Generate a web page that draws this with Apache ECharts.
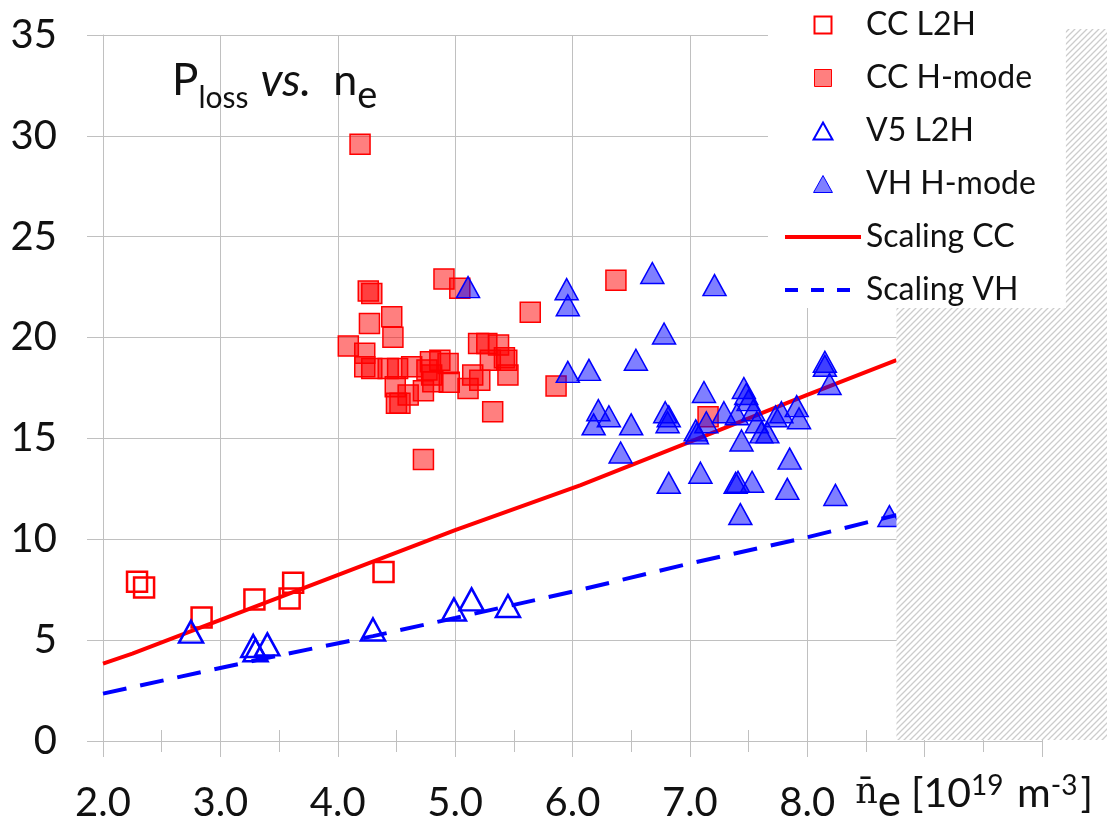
<!DOCTYPE html>
<html>
<head>
<meta charset="utf-8">
<script src="https://cdn.jsdelivr.net/npm/echarts@6/dist/echarts.min.js"></script>
<style>
html,body{margin:0;padding:0;background:#fff;}
#c{width:1107px;height:829px;}
</style>
</head>
<body>
<div id="c"></div>
<script>
// ---------- data ----------
const seriesNames = ['CC L2H', 'CC H-mode', 'V5 L2H', 'VH H-mode', 'Scaling CC', 'Scaling VH'];

const ccL2H = [[2.29,7.89],[2.35,7.61],[2.84,6.12],[3.29,7.01],[3.59,7.06],[3.62,7.84],[4.39,8.38]];

const ccHmode = [
  [4.19,29.58],[4.905,22.90],[5.04,22.44],[4.26,22.31],[4.29,22.19],[5.64,21.25],
  [4.46,21.03],[4.27,20.70],[4.47,20.01],[4.09,19.58],[4.23,19.22],[4.23,18.55],
  [4.29,18.47],[4.43,18.47],[4.51,18.47],[4.63,18.55],[4.79,18.80],[4.87,18.88],
  [4.94,18.72],[4.76,18.39],[4.80,18.14],[4.81,17.81],[4.95,17.78],[4.49,17.56],
  [4.60,17.15],[4.73,17.36],[4.50,16.74],[4.53,16.74],[5.15,18.14],[5.21,17.89],
  [5.11,17.48],[5.20,19.71],[5.27,19.71],[5.37,19.63],[5.30,18.88],[5.44,18.88],
  [5.42,19.00],[5.45,18.14],[5.32,16.32],[4.73,13.96],[5.86,17.60],[6.37,22.84],
  [7.155,16.07]
];

const v5L2H = [[2.75,5.42],[3.28,4.71],[3.30,4.50],[3.40,4.79],[4.30,5.53],[4.99,6.52],[5.14,7.02],[5.45,6.69]];

const vhHmode = [
  [5.11,22.50],[5.95,22.40],[5.96,21.60],[5.96,18.30],[6.14,18.40],
  [6.22,16.40],[6.31,16.10],[6.18,15.70],[6.50,15.70],[6.41,14.30],
  [6.54,18.90],[6.68,23.20],[6.78,20.20],[6.79,16.30],[6.82,16.10],
  [6.81,15.80],[6.82,12.80],[7.05,15.40],[7.06,15.25],[7.09,13.30],
  [7.12,17.30],[7.14,15.80],[7.21,22.60],[7.29,16.30],[7.40,16.20],
  [7.39,12.80],[7.41,12.85],[7.43,11.25],[7.44,14.90],[7.46,17.50],
  [7.48,17.20],[7.50,16.90],[7.53,12.85],[7.54,16.40],[7.57,15.80],
  [7.61,15.30],[7.66,15.30],[7.73,16.10],[7.78,16.30],[7.83,12.50],
  [7.85,14.00],[7.91,16.60],[7.93,16.00],[8.15,18.80],[8.15,18.60],
  [8.19,17.70],[8.24,12.20],[8.70,11.15]
];

const scalingCC = [[2.0,3.84],[2.25,4.33],[5.0,10.45],[6.07,12.68],[7.0,14.83],[8.0,17.16],[8.76,18.88]];
const scalingVH = [[2.0,2.35],[3.3,4.0],[4.3,5.2],[5.0,6.1],[6.0,7.4],[7.0,8.8],[8.0,10.1],[8.76,11.2]];

const xTickLabels = ['2.0','3.0','4.0','5.0','6.0','7.0','8.0'];
const yTickLabels = ['0','5','10','15','20','25','30','35'];

const hatchFromX = 8.76;   // start of the hatched (excluded) region
const hatchTopY = 35.3;

// ---------- styles ----------
const FONT = 'Lato';
const TXT = '#111';
const GRID = '#c0c0c0';
const ICON_SQUARE = 'path://M0,0L10,0L10,10L0,10Z';
const ICON_TRIANGLE = 'path://M10,0L20,18L0,18Z';
const NOFILL = {color: 'rgba(0,0,0,0)', borderColor: 'rgba(0,0,0,0)', borderWidth: 0};

const chart = echarts.init(document.getElementById('c'), null, {renderer: 'canvas'});

const option = {
  animation: false,
  backgroundColor: '#fff',
  title: {
    text: '{P|P}{s|loss}{i|vs.}{n|n}{e|e}',
    left: 172, top: 56, padding: 0, z: 10,
    textStyle: {
      fontWeight: 'normal',
      rich: {
        P: {fontFamily: FONT, fontWeight: 'normal', fontSize: 44, lineHeight: 50, color: TXT},
        s: {fontFamily: FONT, fontWeight: 'normal', fontSize: 30, lineHeight: 30, padding: [35, 0, 0, 0], color: TXT},
        i: {fontFamily: FONT, fontWeight: 'normal', fontStyle: 'italic', fontSize: 46, lineHeight: 50, padding: [0, 0, 0, 12], color: TXT},
        n: {fontFamily: FONT, fontWeight: 'normal', fontSize: 43, lineHeight: 50, padding: [0, 0, 0, 22], color: TXT},
        e: {fontFamily: FONT, fontWeight: 'normal', fontSize: 38, lineHeight: 40, padding: [30, 0, 0, 0], color: TXT}
      }
    }
  },
  legend: {
    orient: 'vertical',
    left: 768, top: 0,
    padding: [9, 30, 2, 15],
    itemWidth: 76, itemHeight: 17, itemGap: 21,
    symbolKeepAspect: true,
    backgroundColor: '#fff',
    selectedMode: false,
    z: 10,
    textStyle: {fontFamily: FONT, fontSize: 32, color: TXT},
    data: [
      {name: seriesNames[0], icon: ICON_SQUARE},
      {name: seriesNames[1], icon: ICON_SQUARE, itemStyle: {borderWidth: 1}},
      {name: seriesNames[2], icon: ICON_TRIANGLE},
      {name: seriesNames[3], icon: ICON_TRIANGLE, itemStyle: {borderWidth: 1}},
      {name: seriesNames[4], itemStyle: NOFILL, lineStyle: {width: 4}},
      {name: seriesNames[5], itemStyle: NOFILL, lineStyle: {width: 4, type: [13, 13]}}
    ]
  },
  grid: {left: 103, right: 65, top: 35, bottom: 88, containLabel: false, outerBoundsMode: 'none'},
  xAxis: [
    {
      type: 'value', min: 2, max: 10, interval: 1, position: 'bottom',
      axisLine: {show: true, onZero: false, lineStyle: {color: GRID, width: 1}},
      axisTick: {show: true, inside: false, length: 16, lineStyle: {color: GRID, width: 1}},
      minorTick: {show: true, splitNumber: 2, length: 11, lineStyle: {color: GRID, width: 1}},
      splitLine: {show: true, lineStyle: {color: GRID, width: 1}},
      axisLabel: {
        margin: 42, fontFamily: FONT, fontSize: 40, color: TXT,
        formatter: function (v) { const s = v.toFixed(1); return xTickLabels.indexOf(s) >= 0 ? s : ''; }
      },
      name: '{nb|n\u0304}{e|e}{m|[10}{p|19}{m| m}{p|-3}{m|]}',
      nameLocation: 'end',
      nameGap: 51,
      nameMoveOverlap: false,
      nameTextStyle: {
        align: 'right', verticalAlign: 'top', padding: [33, 0, 0, 0],
        rich: {
          nb: {fontFamily: 'DejaVu Serif', fontSize: 35, lineHeight: 40, color: TXT},
          e: {fontFamily: FONT, fontSize: 44, lineHeight: 40, padding: [16, 10, 0, 0], color: TXT},
          m: {fontFamily: FONT, fontSize: 41, lineHeight: 40, color: TXT},
          p: {fontFamily: FONT, fontSize: 28, lineHeight: 25, padding: [0, 3, 16, 0], color: TXT}
        }
      }
    },
    {
      type: 'value', min: 2, max: 10, interval: 0.5, position: 'bottom',
      axisLine: {show: false},
      axisTick: {show: true, inside: true, length: 11, lineStyle: {color: GRID, width: 1}},
      splitLine: {show: false},
      axisLabel: {show: false}
    }
  ],
  yAxis: {
    type: 'value', min: 0, max: 35, interval: 5,
    axisLine: {show: true, lineStyle: {color: GRID, width: 1}},
    axisTick: {show: true, inside: false, length: 16, lineStyle: {color: GRID, width: 1}},
    splitLine: {show: true, lineStyle: {color: GRID, width: 1}},
    axisLabel: {
      margin: 46, fontFamily: FONT, fontSize: 40, color: TXT,
      formatter: function (v) { const s = String(v); return yTickLabels.indexOf(s) >= 0 ? s : ''; }
    }
  },
  series: [
    {
      name: seriesNames[4], type: 'line', data: scalingCC, symbol: 'none', z: 2,
      lineStyle: {color: '#ff0000', width: 4}, itemStyle: {color: '#ff0000'}
    },
    {
      name: seriesNames[5], type: 'line', data: scalingVH, symbol: 'none', z: 2,
      lineStyle: {color: '#0000ff', width: 4, type: [24, 14]}, itemStyle: {color: '#0000ff'}
    },
    {
      name: seriesNames[0], type: 'scatter', data: ccL2H, symbol: 'rect', symbolSize: 20, z: 3,
      itemStyle: {color: 'rgba(255,255,255,0)', borderColor: '#ff0000', borderWidth: 2.5, opacity: 1}
    },
    {
      name: seriesNames[1], type: 'scatter', data: ccHmode, symbol: 'rect', symbolSize: 20, z: 3,
      itemStyle: {color: 'rgba(255,0,0,0.5)', borderColor: '#ff0000', borderWidth: 1.5, opacity: 1}
    },
    {
      name: seriesNames[2], type: 'scatter', data: v5L2H, symbol: 'triangle', symbolSize: [24, 22], z: 3,
      itemStyle: {color: 'rgba(255,255,255,0)', borderColor: '#0000ff', borderWidth: 2.5, opacity: 1}
    },
    {
      name: seriesNames[3], type: 'scatter', data: vhHmode, symbol: 'triangle', symbolSize: [23, 21], z: 3,
      itemStyle: {color: 'rgba(0,0,255,0.5)', borderColor: '#0000ff', borderWidth: 1.5, opacity: 1}
    }
  ]
};

chart.setOption(option);

// hatched region (excluded density range), placed through the axes' scales
const pc = document.createElement('canvas');
pc.width = 6; pc.height = 6;
const g = pc.getContext('2d');
g.fillStyle = '#ffffff'; g.fillRect(0, 0, 6, 6);
g.strokeStyle = '#cccccc'; g.lineWidth = 1.3;
g.beginPath();
g.moveTo(-1, 7); g.lineTo(7, -1);
g.moveTo(-4, 4); g.lineTo(4, -4);
g.moveTo(2, 10); g.lineTo(10, 2);
g.stroke();

const pBottom = chart.convertToPixel({xAxisIndex: 0, yAxisIndex: 0}, [hatchFromX, 0]);
const pTop = chart.convertToPixel({xAxisIndex: 0, yAxisIndex: 0}, [hatchFromX, hatchTopY]);
chart.setOption({
  graphic: [{
    type: 'rect', z: 5, silent: true,
    shape: {x: pBottom[0], y: pTop[1], width: chart.getWidth() - pBottom[0], height: pBottom[1] - pTop[1] - 1},
    style: {fill: {image: pc, repeat: 'repeat'}}
  }]
});
</script>
</body>
</html>
